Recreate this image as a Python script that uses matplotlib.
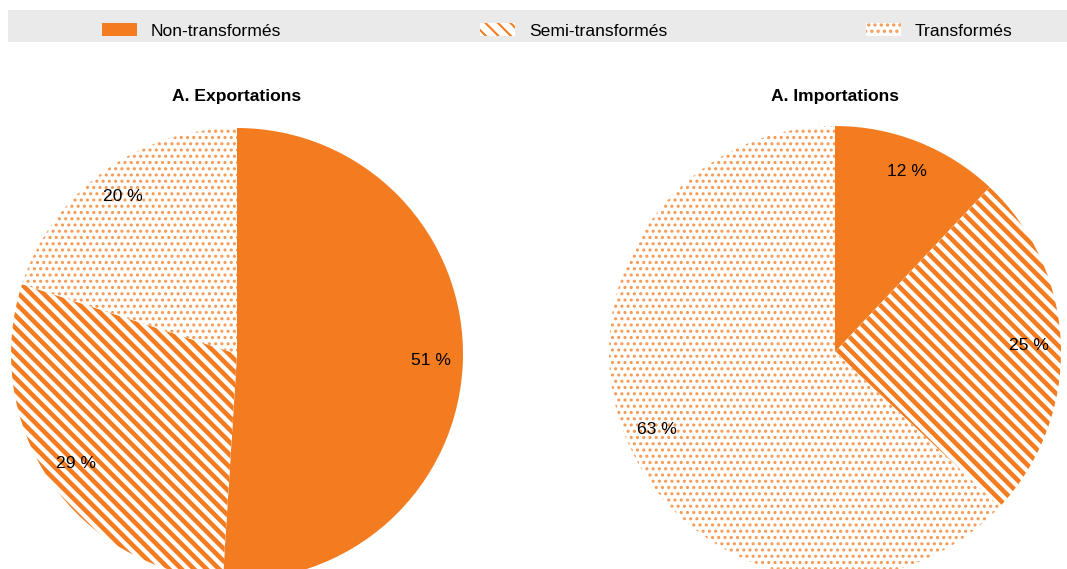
import matplotlib
matplotlib.use("Agg")
import matplotlib.pyplot as plt
from matplotlib.patches import Rectangle

categories = ["Non-transformés", "Semi-transformés", "Transformés"]
exports = [51, 29, 20]
imports = [12, 25, 63]
titles = ["A. Exportations", "A. Importations"]

ORANGE = "#F47C20"
DOT = "#F69A55"
hatches = [None, "\\\\\\\\", "...."]
edges = [ORANGE, ORANGE, DOT]
hatch_lw = [0, 2.2, 0.9]

plt.rcParams["font.family"] = ["Liberation Sans", "DejaVu Sans"]

DPI = 150
W, H = 1067, 569
fig = plt.figure(figsize=(W / DPI, H / DPI), dpi=DPI)
FS = 8.4

# grey band behind the legend
fig.patches.append(Rectangle((8 / W, 1 - 42 / H), 1059 / W, 32 / H,
                             transform=fig.transFigure, facecolor="#EAEAEA",
                             edgecolor="none", zorder=0))


def draw_pie(ax, values):
    wedges, texts, autotexts = ax.pie(
        values, startangle=90, counterclock=False, radius=1,
        autopct=lambda p: f"{p:.0f} %", pctdistance=0.86,
        textprops={"fontsize": FS, "color": "black"})
    for w, h, ec, lw in zip(wedges, hatches, edges, hatch_lw):
        if h is None:
            w.set_facecolor(ORANGE)
            w.set_edgecolor("none")
        else:
            w.set_facecolor("white")
            w.set_edgecolor(ec)
            w.set_hatch(h)
            w.set_linewidth(0)
            if hasattr(w, "set_hatch_linewidth"):
                w.set_hatch_linewidth(lw)
    ax.set_xlim(-1, 1)
    ax.set_ylim(-1, 1)
    ax.set_aspect("auto")
    ax.axis("off")
    return wedges


r = 226
centers = [(237, 354), (835, 352)]
pies = []
for (cx, cy), vals, t in zip(centers, [exports, imports], titles):
    ax = fig.add_axes([(cx - r) / W, (H - cy - r) / H, 2 * r / W, 2 * r / H])
    pies.append(draw_pie(ax, vals))
    fig.text(cx / W, 1 - 97 / H, t, ha="center", va="center",
             fontsize=FS, fontweight="bold")

leg = fig.legend(pies[0], categories, loc="center left", ncol=3, mode="expand",
                 bbox_to_anchor=(86 / W, 1 - 31 / H, 942 / W, 0.0001),
                 frameon=False, fontsize=FS, handlelength=2.0, handleheight=0.7,
                 handletextpad=0.8)

fig.savefig("out.png", dpi=DPI)
